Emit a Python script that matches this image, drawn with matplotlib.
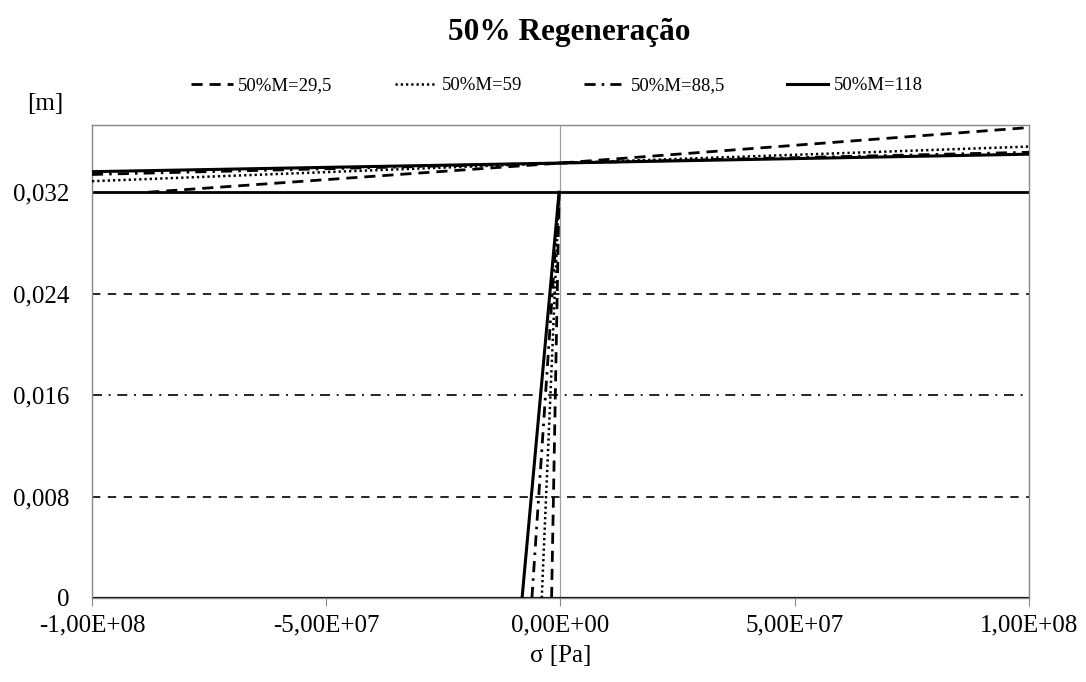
import matplotlib
matplotlib.use("Agg")
import matplotlib.pyplot as plt
from matplotlib.ticker import FuncFormatter

# =====================
# data
# =====================
labels = ["50%M=29,5", "50%M=59", "50%M=88,5", "50%M=118"]

# steep branch: sigma at y=0 -> sigma at y=0.032
steep_x0 = [-1.9e6, -4.0e6, -6.1e6, -8.2e6]
steep_x1 = [-3e5, -3e5, -3e5, -3e5]
steep_y = [0.0, 0.032]

# upper branch: three points each
upper_x = [
    [-8.8e7, 0.0, 1.0e8],
    [-1.0e8, 0.0, 1.0e8],
    [-1.0e8, 0.0, 1.0e8],
    [-1.0e8, 0.0, 1.0e8],
]
upper_y = [
    [0.0320, 0.03430, 0.03710],
    [0.03287, 0.03430, 0.03560],
    [0.03340, 0.03430, 0.03515],
    [0.03362, 0.03430, 0.03500],
]

# horizontal reference lines
h_levels = [0.0, 0.008, 0.016, 0.024, 0.032]

x_ticks = [-1e8, -5e7, 0, 5e7, 1e8]
y_ticks = [0, 0.008, 0.016, 0.024, 0.032]

# =====================
# styles
# =====================
styles = [
    dict(linestyle=(0, (4, 2.5)), linewidth=2.0),
    dict(linestyle=(0, (0.9, 1.2)), linewidth=1.8),
    dict(linestyle=(0, (4, 2.2, 0.9, 2.2)), linewidth=2.0),
    dict(linestyle="-", linewidth=2.2),
]
h_styles = [
    dict(linestyle="-", linewidth=1.6),
    dict(linestyle=(0, (5, 4.5)), linewidth=1.2),
    dict(linestyle=(0, (6, 4, 1.2, 4)), linewidth=1.2),
    dict(linestyle=(0, (5, 4.5)), linewidth=1.2),
    dict(linestyle="-", linewidth=2.0),
]

plt.rcParams["font.family"] = ["Liberation Serif", "DejaVu Serif"]

fig = plt.figure(figsize=(10.86, 6.82), dpi=100)
ax = fig.add_axes([0.0847, 0.1232, 0.8628, 0.6935])

for lvl, st in zip(h_levels, h_styles):
    ax.axhline(lvl, color="black", zorder=2, **st)

ax.axvline(0, color="#a0a0a0", linewidth=0.9, zorder=1)

handles = []
for i in range(4):
    ax.plot([steep_x0[i], steep_x1[i]], steep_y, color="black", zorder=3, **styles[i])
    h, = ax.plot(upper_x[i], upper_y[i], color="black", zorder=3, label=labels[i], **styles[i])
    handles.append(h)

ax.set_xlim(-1e8, 1e8)
ax.set_ylim(0, 0.0373)
ax.set_xticks(x_ticks)
ax.set_yticks(y_ticks)


def fmt_x(v, pos):
    s = "%.2E" % v
    return s.replace(".", ",")


def fmt_y(v, pos):
    if v == 0:
        return "0"
    return ("%.3f" % v).replace(".", ",")


ax.xaxis.set_major_formatter(FuncFormatter(fmt_x))
ax.yaxis.set_major_formatter(FuncFormatter(fmt_y))
ax.tick_params(axis="x", direction="out", length=6, color="#888888", labelsize=18, pad=6)
ax.tick_params(axis="y", length=0, labelsize=18, pad=16)

for sp in ax.spines.values():
    sp.set_color("#888888")
    sp.set_linewidth(1.0)

ax.set_xlabel("σ [Pa]", fontsize=18, labelpad=6)
fig.text(0.042, 0.848, "[m]", fontsize=18, ha="center", va="center")
fig.text(0.524, 0.953, "50% Regeneração", fontsize=22.5, fontweight="bold", ha="center", va="center")

fig.legend(handles=handles, loc="center", bbox_to_anchor=(0.513, 0.874), ncol=4,
           frameon=False, fontsize=13.5, handlelength=2.2, handletextpad=0.3,
           columnspacing=3.3)

plt.savefig("out.png", dpi=100)
plt.close()
